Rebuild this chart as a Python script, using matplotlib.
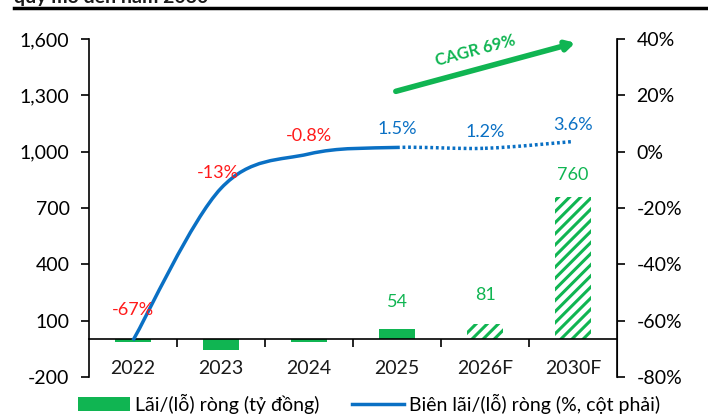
import matplotlib.pyplot as plt
from matplotlib.path import Path
from matplotlib.patches import PathPatch, Patch, FancyArrowPatch
from matplotlib.lines import Line2D

plt.rcParams['font.family'] = ['Lato', 'DejaVu Sans']
plt.rcParams['hatch.linewidth'] = 2.2

years = ['2022', '2023', '2024', '2025', '2026F', '2030F']
profit = [-12, -55, -14, 54, 81, 760]
forecast = [False, False, False, False, True, True]
margin = [-67, -13, -0.8, 1.5, 1.2, 3.6]
margin_text = ['-67%', '-13%', '-0.8%', '1.5%', '1.2%', '3.6%']

GREEN = '#10b552'
BLUE = '#0a70c4'
RED = '#ff1a1a'

fig = plt.figure(figsize=(7.08, 4.17), dpi=100)
ax = fig.add_axes([89 / 708, 40 / 417, 528 / 708, 338 / 417])
ax2 = ax.twinx()
ax2.set_position(ax.get_position())

x = list(range(len(years)))

# bars: actual years solid, forecast years hatched
for i in x:
    if forecast[i]:
        ax.bar(i, profit[i], width=0.4, color='white', edgecolor=GREEN,
               hatch='///', linewidth=0, zorder=2)
    else:
        ax.bar(i, profit[i], width=0.4, color=GREEN, linewidth=0, zorder=2)

bar_offsets = [0, 0, 0, 14, 15, 10]
for i in x:
    if profit[i] > 0:
        ax.annotate(str(profit[i]), (i, profit[i]), xytext=(0, bar_offsets[i]),
                    textcoords='offset points', ha='center', va='bottom',
                    color=GREEN, fontsize=13)

ax.set_xlim(-0.5, len(years) - 0.5)
ax.set_ylim(-200, 1600)
ax.set_yticks([-200, 100, 400, 700, 1000, 1300, 1600])
ax.set_yticklabels(['{:,}'.format(v) for v in [-200, 100, 400, 700, 1000, 1300, 1600]])
ax.tick_params(axis='y', direction='out', length=6, width=1.2, labelsize=14, pad=8)

ax.spines['top'].set_visible(False)
ax.spines['bottom'].set_position(('data', 0))
ax.spines['bottom'].set_linewidth(1.2)
ax.spines['left'].set_linewidth(1.2)
ax.set_xticks([i + 0.5 for i in x[:-1]])
ax.set_xticklabels([])
ax.tick_params(axis='x', direction='out', length=6, width=1.2)
for i in x:
    ax.text(i, 0.024, years[i], transform=ax.get_xaxis_transform(),
            ha='center', va='center', fontsize=14, color='#1a1a1a')

# smoothed margin line (Catmull-Rom as cubic Bezier)
pts = list(zip(x, margin))


def segment(k):
    p0 = pts[max(k - 1, 0)]
    p1 = pts[k]
    p2 = pts[k + 1]
    p3 = pts[min(k + 2, len(pts) - 1)]
    c1 = (p1[0] + (p2[0] - p0[0]) / 6, p1[1] + (p2[1] - p0[1]) / 6)
    c2 = (p2[0] - (p3[0] - p1[0]) / 6, p2[1] - (p3[1] - p1[1]) / 6)
    return [p1, c1, c2, p2]


solid_verts, solid_codes = [], []
dot_verts, dot_codes = [], []
for k in range(len(pts) - 1):
    seg = segment(k)
    if k < 3:
        solid_verts += seg
        solid_codes += [Path.MOVETO, Path.CURVE4, Path.CURVE4, Path.CURVE4]
    else:
        dot_verts += seg
        dot_codes += [Path.MOVETO, Path.CURVE4, Path.CURVE4, Path.CURVE4]

ax2.add_patch(PathPatch(Path(solid_verts, solid_codes), fill=False,
                        edgecolor=BLUE, linewidth=2.5, capstyle='butt', zorder=3))
ax2.add_patch(PathPatch(Path(dot_verts, dot_codes), fill=False,
                        edgecolor=BLUE, linewidth=2.5, linestyle=(0, (0.8, 0.8)),
                        capstyle='butt', zorder=3))

label_offsets = [(0, 22), (-2, 11), (0, 13), (0, 13), (0, 12), (0, 12)]
for i in x:
    col = RED if margin[i] < 0 else BLUE
    ax2.annotate(margin_text[i], (i, margin[i]), xytext=label_offsets[i],
                 textcoords='offset points', ha='center', va='center',
                 color=col, fontsize=13)

ax2.set_ylim(-80, 40)
ax2.set_yticks([-80, -60, -40, -20, 0, 20, 40])
ax2.set_yticklabels(['{}%'.format(v) for v in [-80, -60, -40, -20, 0, 20, 40]])
ax2.tick_params(axis='y', direction='out', length=6, width=1.2, labelsize=14, pad=8)
for s in ['top', 'bottom', 'left']:
    ax2.spines[s].set_visible(False)
ax2.spines['right'].set_linewidth(1.2)

# CAGR arrow
ax.add_patch(FancyArrowPatch((0.576, 0.843), (0.926, 0.991), transform=ax.transAxes,
                             arrowstyle='-|>,head_length=5,head_width=2.8',
                             color=GREEN, linewidth=4, clip_on=False, zorder=4))
ax.text(0.731, 0.965, 'CAGR 69%', transform=ax.transAxes, rotation=15,
        ha='center', va='center', fontsize=12, fontweight='bold', color=GREEN)

# header remnant
fig.text(14 / 708, 1 - 2.5 / 417, 'quy mô đến năm 2030', ha='left', va='baseline',
         fontsize=14, fontweight='bold', color='#1a1a1a')
fig.add_artist(Line2D([14 / 708, 1], [1 - 8 / 417, 1 - 8 / 417],
                      transform=fig.transFigure, color='black', linewidth=2.5))

handles = [Patch(facecolor=GREEN, edgecolor='none'),
           Line2D([0], [0], color=BLUE, linewidth=2.5)]
fig.legend(handles, ['Lãi/(lỗ) ròng (tỷ đồng)', 'Biên lãi/(lỗ) ròng (%, cột phải)'],
           loc='center', bbox_to_anchor=(369 / 708, 13 / 417), ncol=2, frameon=False,
           fontsize=14, handlelength=2.68, handletextpad=0.26, columnspacing=1.65,
           borderpad=0, borderaxespad=0)

fig.savefig('out.png', dpi=100)
